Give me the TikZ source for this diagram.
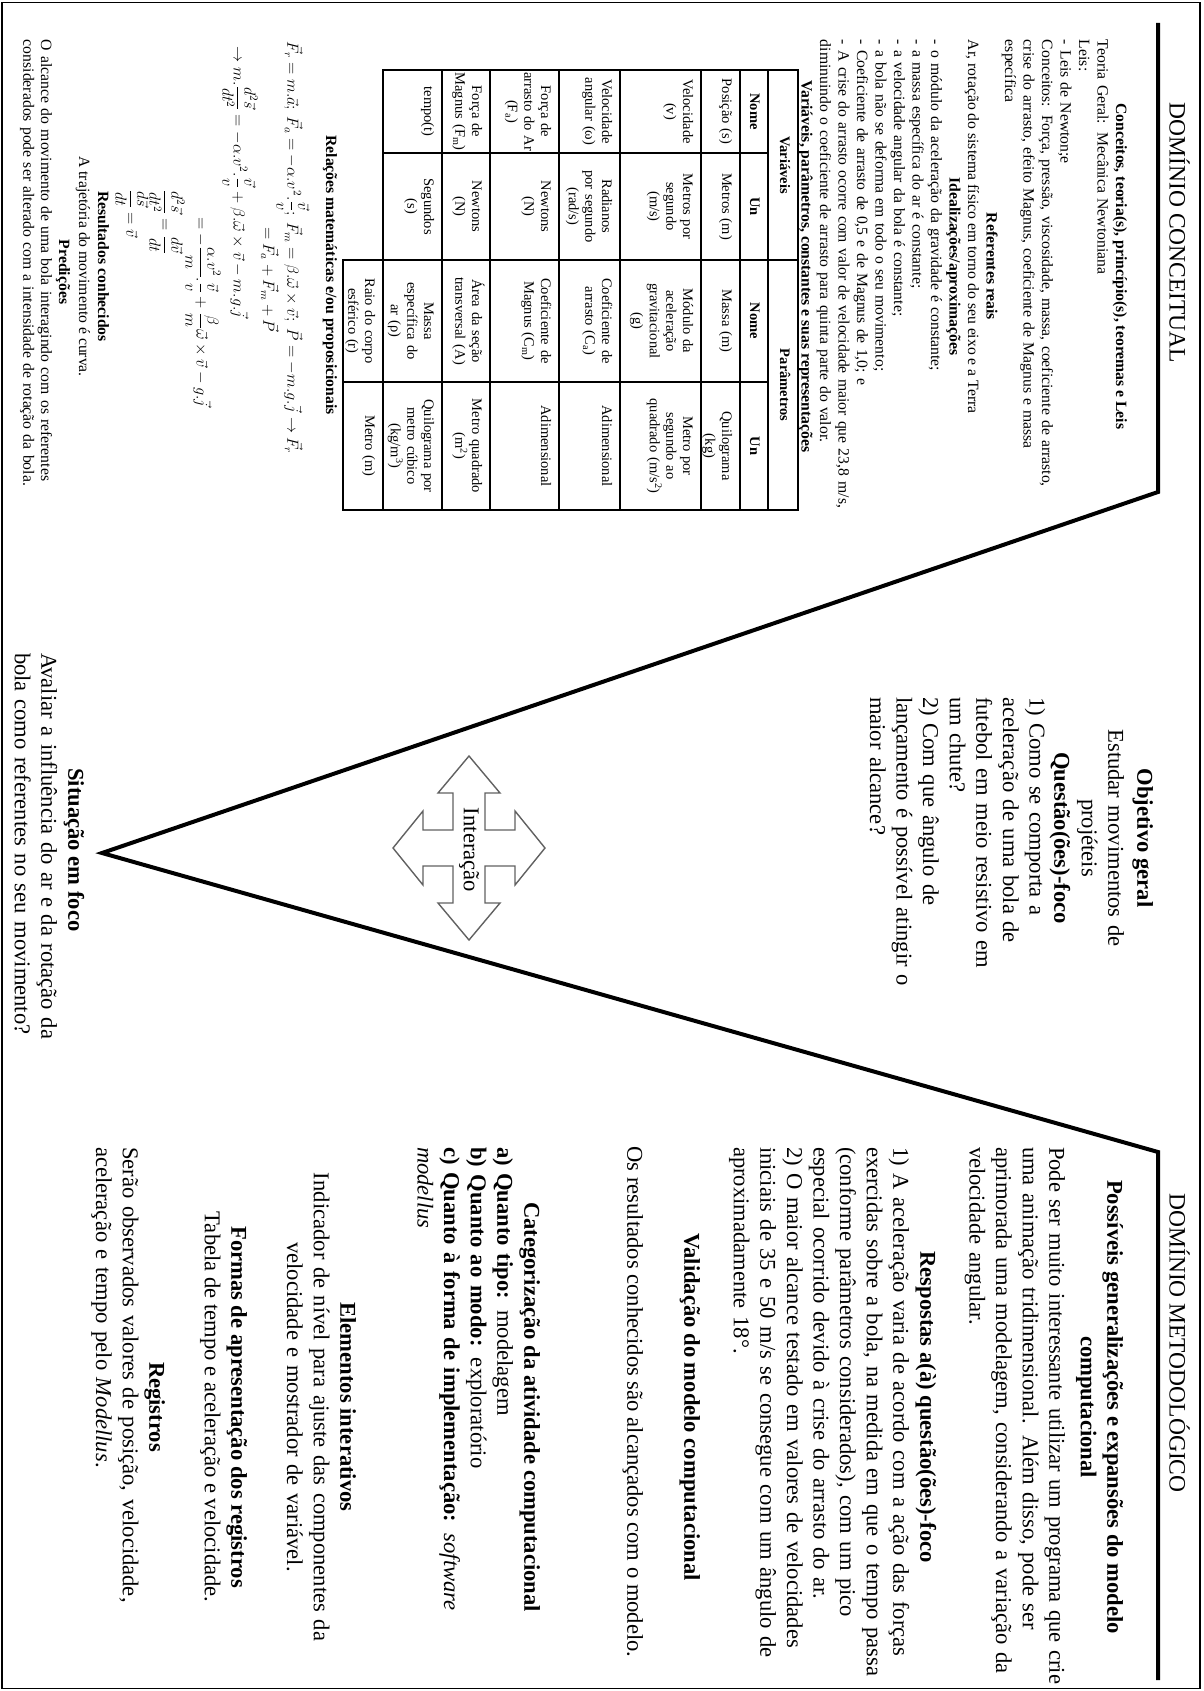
\documentclass[tikz,border=0pt]{standalone}
\usepackage{fontspec}
\usepackage{graphicx}
\setmainfont{Liberation Serif}
\newcommand{\jl}[1]{\makebox[\linewidth][s]{#1}}
\newcommand{\eqbox}[1]{\scalebox{1.12}{$\displaystyle #1$}}
\begin{document}
\begin{tikzpicture}[x=1pt,y=1pt,
  fc/.style={inner sep=0pt,outer sep=0pt,font=\fontsize{15.7}{18.5}\selectfont},
  fe/.style={inner sep=0pt,outer sep=0pt,font=\fontsize{14.4}{17}\selectfont,anchor=west},
  fr/.style={inner sep=0pt,outer sep=0pt,font=\fontsize{22.6}{26.6}\selectfont},
  fh/.style={inner sep=0pt,outer sep=0pt,font=\fontsize{23.5}{28}\selectfont},
  cell/.style={inner sep=0pt,outer sep=0pt,font=\fontsize{14.5}{16.6}\selectfont,align=center,text width=150pt,anchor=base},
  vline/.style={line width=4pt,line join=miter},
  tline/.style={line width=1.1pt,line cap=rect},
  arrowshape/.style={draw=black!62,line width=1.4pt,fill=white,line join=miter},
]
\useasboundingbox (0,0) rectangle (1204,-1691);
\draw[line width=1.5pt] (2,-2.5) rectangle (1200,-1688.5);
\begin{scope}[shift={(1204,0)},rotate=-90,transform shape]
% ---------- V ----------
\coordinate (v1) at (23,-46);
\coordinate (v2) at (492,-46);
\coordinate (v3) at (853,-1102);
\coordinate (v4) at (1152,-46);
\coordinate (v5) at (1680,-46);
\draw[vline] (v1) -- (v2) -- (v3) -- (v4) -- (v5);
% ---------- headers ----------
\node[fh,anchor=base] (hC) at (233,-34.5) {DOMÍNIO CONCEITUAL};
\node[fh,anchor=base] (hM) at (1343,-34.5) {DOMÍNIO METODOLÓGICO};
% ---------- conceptual text ----------
\node[fc,anchor=base] (ctitle) at (266.5,-87.9) {\bfseries Conceitos, teoria(s), princípio(s), teoremas e Leis};
\node[fc,anchor=base west,text width=453pt,align=left] (cteoria) at (40,-106.4) {Teoria Geral: Mecânica Newtoniana\\ Leis:\\ - Leis de Newton;e\\ \jl{Conceitos: Força, pressão, viscosidade, massa, coeficiente de arrasto,}\\ \jl{crise do arrasto, efeito Magnus, coeficiente de Magnus e massa}\\ específica};
\node[fc,anchor=base] (cref) at (266.5,-217.4) {\bfseries Referentes reais};
\node[fc,anchor=base west] (cref2) at (40,-235.9) {Ar, rotação do sistema físico em torno do seu eixo e a Terra};
\node[fc,anchor=base] (cideal) at (266.5,-254.4) {\bfseries Idealizações/aproximações};
\node[fc,anchor=base west,text width=453pt,align=left] (cideal2) at (40,-272.9) {- o módulo da aceleração da gravidade é constante;\\ - a massa específica do ar é constante;\\ - a velocidade angular da bola é constante;\\ - a bola não se deforma em todo o seu movimento;\\ - Coeficiente de arrasto de 0,5 e de Magnus de 1,0; e\\ \jl{- A crise do arrasto ocorre com valor de velocidade maior que 23,8 m/s,}\\ diminuindo o coeficiente de arrasto para quinta parte do valor.};
\node[fc,anchor=base] (cvar) at (266.5,-402.4) {\bfseries Variáveis, parâmetros, constantes e suas representações};
% ---------- table ----------
\draw[tline] (70,-406) -- (510,-406);
\foreach \r in {436,464,503,584,645,714,762,821} {\draw[tline] (70,-\r) -- (510,-\r);}
\draw[tline] (260,-861) -- (510,-861);
\draw[tline] (70,-406) -- (70,-821);
\draw[tline] (510,-406) -- (510,-861);
\draw[tline] (260,-406) -- (260,-861);
\draw[tline] (153,-436) -- (153,-821);
\draw[tline] (382,-436) -- (382,-861);
\node[cell] (tvar) at (165,-424) {\bfseries Variáveis};
\node[cell] (tpar) at (385,-424) {\bfseries Parâmetros};
\node[cell] (th1) at (111.5,-454) {\bfseries Nome};
\node[cell] (th2) at (206.5,-454) {\bfseries Un};
\node[cell] (th3) at (321,-454) {\bfseries Nome};
\node[cell] (th4) at (446,-454) {\bfseries Un};
\node[cell] (t11) at (111.5,-482) {Posição (s)};
\node[cell] (t12) at (206.5,-482) {Metros (m)};
\node[cell] (t13) at (321,-482) {Massa (m)};
\node[cell] (t14) at (446,-482) {Quilograma\\(kg)};
\node[cell] (t21) at (111.5,-521) {Velocidade\\(v)};
\node[cell] (t22) at (206.5,-521) {Metros por\\segundo\\(m/s)};
\node[cell] (t23) at (321,-521) {Módulo da\\aceleração\\gravitacional\\(g)};
\node[cell] (t24) at (446,-521) {Metro por\\segundo ao\\quadrado (m/s\textsuperscript{2})};
\node[cell] (t31) at (111.5,-602) {Velocidade\\angular (ω)};
\node[cell] (t32) at (206.5,-602) {Radianos\\por segundo\\(rad/s)};
\node[cell] (t33) at (321,-602) {Coeficiente de\\arrasto (C\textsubscript{a})};
\node[cell] (t34) at (446,-602) {Adimensional};
\node[cell] (t41) at (111.5,-663) {Força de\\arrasto do Ar\\(F\textsubscript{a})};
\node[cell] (t42) at (206.5,-663) {Newtons\\(N)};
\node[cell] (t43) at (321,-663) {Coeficiente de\\Magnus (C\textsubscript{m})};
\node[cell] (t44) at (446,-663) {Adimensional};
\node[cell] (t51) at (111.5,-732) {Força de\\Magnus (F\textsubscript{m})};
\node[cell] (t52) at (206.5,-732) {Newtons\\(N)};
\node[cell] (t53) at (321,-732) {Área da seção\\transversal (A)};
\node[cell] (t54) at (446,-732) {Metro quadrado\\(m\textsuperscript{2})};
\node[cell] (t61) at (111.5,-780) {tempo(t)};
\node[cell] (t62) at (206.5,-780) {Segundos\\(s)};
\node[cell] (t63) at (321,-780) {Massa\\específica do\\ar (ρ)};
\node[cell] (t64) at (446,-780) {Quilograma por\\metro cúbico\\(kg/m\textsuperscript{3})};
\node[cell] (t73) at (321,-839) {Raio do corpo\\esférico (r)};
\node[cell] (t74) at (446,-839) {Metro (m)};
% ---------- equations ----------
\node[fc,anchor=base] (crel) at (275,-877.9) {\bfseries Relações matemáticas e/ou proposicionais};
\node[fe] (eq1) at (42,-911) {\eqbox{\vec F_r = m.\vec a;\ \vec F_a = -\alpha.v^2.\frac{\vec v}{v};\ \vec F_m = \beta.\vec\omega\times\vec v;\ \vec P = -m.g.\vec j \rightarrow \vec F_r}};
\node[fe] (eq2) at (227,-934) {\eqbox{= \vec F_a + \vec F_m + \vec P}};
\node[fe] (eq3) at (47,-964) {\eqbox{\rightarrow m.\frac{d^2\vec s}{dt^2} = -\alpha.v^2.\frac{\vec v}{v} + \beta.\vec\omega\times\vec v - m.g.\vec j}};
\node[fe] (eq4) at (217,-1001) {\eqbox{= -\frac{\alpha.v^2}{m}.\frac{\vec v}{v} + \frac{\beta}{m}\vec\omega\times\vec v - g.\vec j}};
\node[fe] (eq5) at (190,-1037) {\eqbox{\frac{d^2\vec s}{dt^2} = \frac{d\vec v}{dt}}};
\node[fe] (eq6) at (190,-1072) {\eqbox{\frac{d\vec s}{dt} = \vec v}};
\node[fc,anchor=base] (cres) at (266.5,-1106) {\bfseries Resultados conhecidos};
\node[fc,anchor=base] (cres2) at (266.5,-1125) {A trajetória do movimento é curva.};
\node[fc,anchor=base] (cpred) at (272,-1145) {\bfseries Predições};
\node[fc,anchor=base west,text width=453pt,align=left,font=\fontsize{15.7}{17.5}\selectfont] (cpred2) at (40,-1163) {\jl{O alcance do movimento de uma bola interagindo com os referentes}\\ \jl{considerados pode ser alterado com a intensidade de rotação da bola.}};
% ---------- centre ----------
\node[fr,anchor=base] (obj) at (838,-66.6) {\bfseries Objetivo geral};
\node[fr,anchor=base,text width=300pt,align=center] (obj2) at (838,-95.6) {Estudar movimentos de\\ projéteis};
\node[fr,anchor=base] (qf) at (838,-149.6) {\bfseries Questão(ões)-foco};
\node[fr,anchor=base west,text width=282pt,align=left] (qf2) at (697,-174.4) {\jl{1) Como se comporta a}\\ \jl{aceleração de uma bola de}\\ \jl{futebol em meio resistivo em}\\ um chute?\\ \jl{2) Com que ângulo de}\\ \jl{lançamento é possível atingir o}\\ maior alcance?};
\begin{scope}[shift={(848,-735)}]
\draw[arrowshape] (-92,0) -- (-55,31) -- (-55,16) -- (-18,16) -- (-18,46) -- (-37,46) -- (0,76) -- (37,46) -- (18,46) -- (18,16) -- (55,16) -- (55,31) -- (92,0) -- (55,-31) -- (55,-16) -- (18,-16) -- (18,-46) -- (37,-46) -- (0,-76) -- (-37,-46) -- (-18,-46) -- (-18,-16) -- (-55,-16) -- (-55,-31) -- cycle;
\end{scope}
\node[fr] (inter) at (850,-735) {Interação};
\node[fr,anchor=base] (sit) at (850,-1135.6) {\bfseries Situação em foco};
\node[fr,anchor=base west,text width=394pt,align=left] (sit2) at (653,-1162.6) {\jl{Avaliar a influência do ar e da rotação da}\\ \jl{bola como referentes no seu movimento?}};
% ---------- methodological ----------
\node[fr,anchor=base] (gen) at (1407,-96.6) {\bfseries Possíveis generalizações e expansões do modelo};
\node[fr,anchor=base] (gen1) at (1407,-123.2) {\bfseries computacional};
\node[fr,anchor=base west,text width=520pt,align=left] (gen2) at (1147,-154.6) {\jl{Pode ser muito interessante utilizar um programa que crie}\\ \jl{uma animação tridimensional. Além disso, pode ser}\\ \jl{aprimorada uma modelagem, considerando a variação da}\\ velocidade angular.};
\node[fr,anchor=base] (resp) at (1407,-283.6) {\bfseries Respostas a(à) questão(ões)-foco};
\node[fr,anchor=base west,text width=520pt,align=left] (resp2) at (1147,-310.6) {\jl{1) A aceleração varia de acordo com a ação das forças}\\ \jl{exercidas sobre a bola, na medida em que o tempo passa}\\ \jl{(conforme parâmetros considerados), com um pico}\\ especial ocorrido devido à crise do arrasto do ar.\\ \jl{2) O maior alcance testado em valores de velocidades}\\ \jl{iniciais de 35 e 50 m/s se consegue com um ângulo de}\\ aproximadamente 18°.};
\node[fr,anchor=base] (val) at (1407,-519.6) {\bfseries Validação do modelo computacional};
\node[fr,anchor=base] (val2) at (1402,-576.6) {Os resultados conhecidos são alcançados com o modelo.};
\node[fr,anchor=base] (cat) at (1407,-679.6) {\bfseries Categorização da atividade computacional};
\node[fr,anchor=base west,text width=520pt,align=left] (cat2) at (1147,-706.6) {\textbf{a) Quanto tipo:} modelagem\\ \textbf{b) Quanto ao modo:} exploratório\\ \jl{\textbf{c) Quanto à forma de implementação:} \textit{software}}\\ \textit{modellus}};
\node[fr,anchor=base] (ele) at (1407,-863.6) {\bfseries Elementos interativos};
\node[fr,anchor=base,text width=540pt,align=center] (ele2) at (1407,-890.2) {Indicador de nível para ajuste das componentes da\\ velocidade e mostrador de variável.};
\node[fr,anchor=base] (forms) at (1407,-972.6) {\bfseries Formas de apresentação dos registros};
\node[fr,anchor=base] (forms2) at (1407,-999.2) {Tabela de tempo e aceleração e velocidade.};
\node[fr,anchor=base] (reg) at (1407,-1054.6) {\bfseries Registros};
\node[fr,anchor=base west,text width=520pt,align=left] (reg2) at (1147,-1081.2) {\jl{Serão observados valores de posição, velocidade,}\\ aceleração e tempo pelo \textit{Modellus}.};
\end{scope}
\end{tikzpicture}
\end{document}
